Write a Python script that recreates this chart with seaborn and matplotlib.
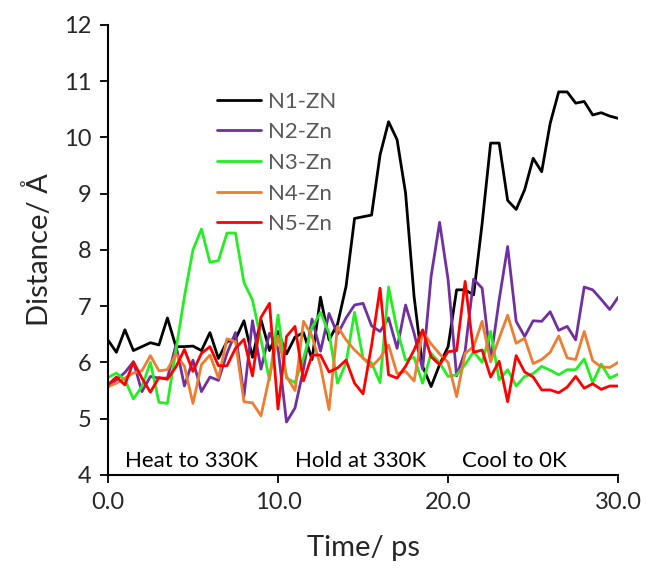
import numpy as np
import pandas as pd
import matplotlib
matplotlib.use("Agg")
import matplotlib.pyplot as plt
import seaborn as sns

# sampling every 0.5 ps, 0 to 30 ps
time_ps = np.arange(61) * 0.5

n1_zn = [6.40, 6.18, 6.58, 6.21, 6.28, 6.35, 6.31, 6.79, 6.28, 6.28,
         6.29, 6.21, 6.53, 6.07, 6.37, 6.41, 6.74, 6.09, 6.76, 6.21,
         6.55, 6.15, 6.45, 6.53, 6.05, 7.16, 6.40, 6.68, 7.35, 8.56,
         8.59, 8.62, 9.69, 10.28, 9.96, 9.01, 7.17, 5.93, 5.57, 5.96,
         6.28, 7.29, 7.29, 7.20, 8.47, 9.90, 9.90, 8.88, 8.72, 9.07,
         9.63, 9.39, 10.25, 10.81, 10.81, 10.61, 10.64, 10.40, 10.44, 10.38,
         10.34]
n2_zn = [5.56, 5.69, 5.82, 6.01, 5.48, 5.75, 5.72, 5.72, 6.31, 5.58,
         6.04, 5.48, 5.74, 5.68, 6.16, 6.53, 5.40, 6.74, 5.88, 6.52,
         6.25, 4.94, 5.19, 5.88, 6.77, 6.20, 6.87, 6.50, 6.79, 7.02,
         7.05, 6.65, 6.55, 6.79, 6.25, 7.02, 6.52, 5.88, 7.53, 8.49,
         7.47, 5.76, 6.20, 7.48, 7.32, 6.04, 7.11, 8.06, 6.73, 6.46,
         6.74, 6.73, 6.90, 6.57, 6.64, 6.40, 7.34, 7.29, 7.12, 6.94,
         7.16]
n3_zn = [5.73, 5.81, 5.69, 5.35, 5.57, 6.00, 5.29, 5.27, 6.22, 7.17,
         8.00, 8.37, 7.78, 7.81, 8.30, 8.30, 7.42, 7.11, 6.40, 5.69,
         6.84, 5.72, 5.64, 6.08, 6.62, 6.89, 6.52, 5.63, 5.99, 6.89,
         6.07, 5.99, 5.64, 7.34, 6.58, 6.04, 6.09, 5.63, 6.16, 5.99,
         5.75, 5.78, 5.96, 6.19, 6.00, 6.55, 5.69, 5.87, 5.58, 5.75,
         5.80, 5.93, 5.86, 5.78, 5.87, 5.87, 6.06, 5.64, 5.97, 5.72,
         5.79]
n4_zn = [5.57, 5.63, 5.72, 5.81, 5.85, 6.12, 5.85, 5.87, 6.15, 5.93,
         5.27, 5.96, 6.13, 5.72, 6.42, 6.37, 5.30, 5.28, 5.05, 5.75,
         6.47, 5.75, 5.50, 6.73, 6.47, 5.93, 5.16, 6.64, 6.40, 6.22,
         6.08, 5.92, 6.08, 6.31, 5.80, 5.84, 5.67, 6.55, 6.33, 6.15,
         6.00, 5.39, 6.16, 6.28, 6.73, 6.01, 6.43, 6.84, 6.34, 6.43,
         5.98, 6.05, 6.18, 6.47, 6.08, 6.05, 6.55, 6.03, 5.92, 5.91,
         6.00]
n5_zn = [5.60, 5.74, 5.60, 6.01, 5.72, 5.47, 5.73, 5.70, 5.92, 6.23,
         5.84, 6.16, 6.28, 5.94, 5.94, 6.25, 6.41, 5.76, 6.80, 7.05,
         5.17, 6.46, 6.64, 5.67, 6.13, 6.13, 5.83, 5.90, 6.04, 5.63,
         5.44, 6.30, 7.32, 5.78, 5.72, 5.93, 6.22, 6.58, 6.10, 5.96,
         6.19, 6.21, 7.44, 6.18, 6.22, 5.74, 6.02, 5.30, 6.12, 5.83,
         5.74, 5.51, 5.51, 5.46, 5.56, 5.75, 5.54, 5.62, 5.52, 5.58,
         5.58]

labels = ["N1-ZN", "N2-Zn", "N3-Zn", "N4-Zn", "N5-Zn"]
colors = ["#000000", "#7030A0", "#22EE22", "#ED7D31", "#FF0000"]
series = [n1_zn, n2_zn, n3_zn, n4_zn, n5_zn]

stages = ["Heat to 330K", "Hold at 330K", "Cool to 0K"]
stage_x = [1.0, 11.0, 20.8]

sns.set_style("ticks")
plt.rcParams['font.family'] = ['Lato', 'DejaVu Sans']

fig = plt.figure(figsize=(6.46, 5.68), dpi=100)
ax = fig.add_axes([0.167, 0.164, 0.79, 0.792])

for lab, col, vals in zip(labels, colors, series):
    sns.lineplot(x=time_ps, y=vals, color=col, label=lab, linewidth=2.0, ax=ax)

for txt, xs in zip(stages, stage_x):
    ax.text(xs, 4.25, txt, fontsize=16, va="center", ha="left", color="black")

ax.set_xlim(0, 30)
ax.set_ylim(4, 12)
ax.set_xticks([0, 10, 20, 30])
ax.set_xticklabels(["0.0", "10.0", "20.0", "30.0"])
ax.set_yticks(range(4, 13))
ax.tick_params(axis="both", labelsize=17, length=6, width=1.3, direction="out",
               color="black", pad=6)
for side in ["top", "right"]:
    ax.spines[side].set_visible(False)
for side in ["left", "bottom"]:
    ax.spines[side].set_linewidth(1.5)
    ax.spines[side].set_color("black")

ax.set_xlabel("Time/ ps", fontsize=21, labelpad=16)
ax.set_ylabel("Distance/ Å", fontsize=21, labelpad=8)

leg = ax.legend(loc="upper left", bbox_to_anchor=(0.213, 0.852), frameon=False,
                fontsize=16, handlelength=2.0, handletextpad=0.3,
                labelspacing=0.48, borderpad=0, borderaxespad=0)
for t in leg.get_texts():
    t.set_color("#595959")

fig.savefig("out.png", dpi=100)
